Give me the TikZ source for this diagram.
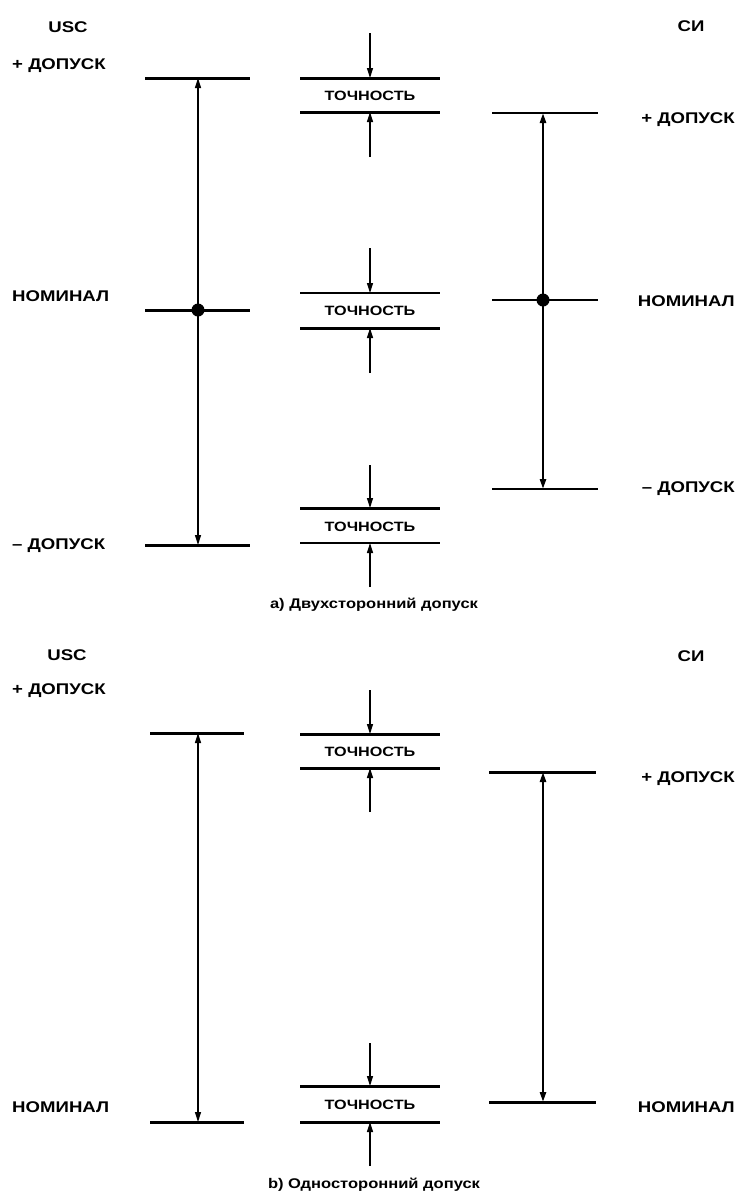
\documentclass[tikz,border=0pt]{standalone}
\usepackage{fontspec}
\setmainfont{Liberation Sans}
\usetikzlibrary{arrows.meta}
\begin{document}
\begin{tikzpicture}[x=1pt,y=-1pt,
  lbl/.style={font=\bfseries\fontsize{15.5}{15.5}\selectfont, inner sep=0pt, xscale=1.2},
  captxt/.style={font=\bfseries\fontsize{14}{14}\selectfont, inner sep=0pt, xscale=1.18},
  tch/.style={font=\bfseries\fontsize{13.5}{13.5}\selectfont, inner sep=0pt, xscale=1.2},
  thickbar/.style={line width=3pt},
  thinbar/.style={line width=1.4pt},
  dimline/.style={line width=1.3pt},
  dimthick/.style={line width=2.4pt},
  tipa/.tip={Triangle[length=10pt,width=6pt]},
  arr/.style={line width=1.2pt,-tipa},
  dbl/.style={tipa-tipa},
  dot/.style={circle, fill=black, inner sep=0pt, minimum size=13pt}]
\useasboundingbox (0,0) rectangle (738,1203);

% ================= (a) =================
\node[lbl] (usca) at (68,27) {USC};
\node[lbl] (sia) at (691,26) {СИ};
\node[lbl,anchor=west] (lpa) at (12,66) {+ ДОПУСК};
\node[lbl,anchor=west] (lna) at (12,296) {НОМИНАЛ};
\node[lbl,anchor=west] (lma) at (12,546) {– ДОПУСК};
\node[lbl,anchor=east] (rpa) at (735,120) {+ ДОПУСК};
\node[lbl,anchor=east] (rna) at (735,301) {НОМИНАЛ};
\node[lbl,anchor=east] (rma) at (735,489) {– ДОПУСК};

% USC bars
\coordinate (ua1) at (145,78);  \coordinate (ua2) at (250,78);
\coordinate (ub1) at (145,310); \coordinate (ub2) at (250,310);
\coordinate (uc1) at (145,545); \coordinate (uc2) at (250,545);
\draw[thickbar] (ua1) -- (ua2);
\draw[thickbar] (ub1) -- (ub2);
\draw[thickbar] (uc1) -- (uc2);
\coordinate (uat) at (198,78); \coordinate (uam) at (198,310); \coordinate (uab) at (198,545);
\draw[dimline,dbl] (uat) -- (uab);
\node[dot] (udot) at (uam) {};

% SI bars
\coordinate (sa1) at (492,113); \coordinate (sa2) at (598,113);
\coordinate (sb1) at (492,300); \coordinate (sb2) at (598,300);
\coordinate (sc1) at (492,489); \coordinate (sc2) at (598,489);
\draw[thinbar] (sa1) -- (sa2);
\draw[thinbar] (sb1) -- (sb2);
\draw[thinbar] (sc1) -- (sc2);
\coordinate (sat) at (543,113); \coordinate (sam) at (543,300); \coordinate (sab) at (543,489);
\draw[dimthick,dbl] (sat) -- (sab);
\node[dot] (sdot) at (sam) {};

% Tochnost group 1
\draw[thickbar] (300,78) -- (440,78);
\draw[thickbar] (300,112) -- (440,112);
\node[tch] (t1) at (370,96) {ТОЧНОСТЬ};
\coordinate (g1s) at (370,33); \coordinate (g1t) at (370,78);
\coordinate (g1u) at (370,157); \coordinate (g1v) at (370,112);
\draw[arr] (g1s) -- (g1t);
\draw[arr] (g1u) -- (g1v);

% Tochnost group 2
\draw[thinbar] (300,293) -- (440,293);
\draw[thickbar] (300,328) -- (440,328);
\node[tch] (t2) at (370,311) {ТОЧНОСТЬ};
\coordinate (g2s) at (370,248); \coordinate (g2t) at (370,293);
\coordinate (g2u) at (370,373); \coordinate (g2v) at (370,328);
\draw[arr] (g2s) -- (g2t);
\draw[arr] (g2u) -- (g2v);

% Tochnost group 3
\draw[thickbar] (300,508) -- (440,508);
\draw[thinbar] (300,543) -- (440,543);
\node[tch] (t3) at (370,527) {ТОЧНОСТЬ};
\coordinate (g3s) at (370,465); \coordinate (g3t) at (370,508);
\coordinate (g3u) at (370,587); \coordinate (g3v) at (370,543);
\draw[arr] (g3s) -- (g3t);
\draw[arr] (g3u) -- (g3v);

\node[captxt] (capa) at (374,605) {а) Двухсторонний допуск};

% ================= (b) =================
\node[lbl] (uscb) at (67,655) {USC};
\node[lbl] (sib) at (691,656) {СИ};
\node[lbl,anchor=west] (lpb) at (12,691) {+ ДОПУСК};
\node[lbl,anchor=west] (lnb) at (12,1107) {НОМИНАЛ};
\node[lbl,anchor=east] (rpb) at (735,779) {+ ДОПУСК};
\node[lbl,anchor=east] (rnb) at (735,1107) {НОМИНАЛ};

\coordinate (va1) at (150,733);  \coordinate (va2) at (244,733);
\coordinate (vb1) at (150,1122); \coordinate (vb2) at (244,1122);
\draw[thickbar] (va1) -- (va2);
\draw[thickbar] (vb1) -- (vb2);
\coordinate (vat) at (198,733); \coordinate (vab) at (198,1122);
\draw[dimline,dbl] (vat) -- (vab);

\coordinate (wa1) at (489,772);  \coordinate (wa2) at (596,772);
\coordinate (wb1) at (489,1102); \coordinate (wb2) at (596,1102);
\draw[thickbar] (wa1) -- (wa2);
\draw[thickbar] (wb1) -- (wb2);
\coordinate (wat) at (543,772); \coordinate (wab) at (543,1102);
\draw[dimthick,dbl] (wat) -- (wab);

% Tochnost group 4
\draw[thickbar] (300,734) -- (440,734);
\draw[thickbar] (300,768) -- (440,768);
\node[tch] (t4) at (370,752) {ТОЧНОСТЬ};
\coordinate (g4s) at (370,690); \coordinate (g4t) at (370,734);
\coordinate (g4u) at (370,812); \coordinate (g4v) at (370,768);
\draw[arr] (g4s) -- (g4t);
\draw[arr] (g4u) -- (g4v);

% Tochnost group 5
\draw[thickbar] (300,1086) -- (440,1086);
\draw[thickbar] (300,1122) -- (440,1122);
\node[tch] (t5) at (370,1105) {ТОЧНОСТЬ};
\coordinate (g5s) at (370,1043); \coordinate (g5t) at (370,1086);
\coordinate (g5u) at (370,1166); \coordinate (g5v) at (370,1122);
\draw[arr] (g5s) -- (g5t);
\draw[arr] (g5u) -- (g5v);

\node[captxt] (capb) at (374,1185) {b) Односторонний допуск};
\end{tikzpicture}
\end{document}
